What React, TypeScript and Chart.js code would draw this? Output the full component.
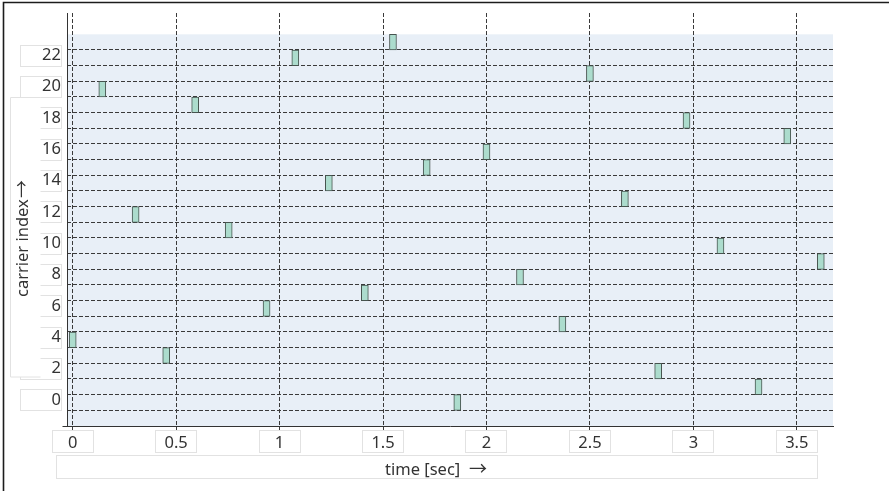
import React, { useEffect, useRef } from "react";
import { Chart, registerables } from "chart.js";

Chart.register(...registerables);

// Frequency-hopping schedule: hop start time (s) and the carrier it lands on.
const HOP_TIMES = [
  0, 0.143, 0.304, 0.452, 0.592, 0.754, 0.937, 1.076, 1.238, 1.412, 1.548, 1.711,
  1.859, 2.0, 2.162, 2.367, 2.5, 2.669, 2.83, 2.967, 3.131, 3.315, 3.454, 3.616,
];
const HOP_CARRIERS = [
  4, 20, 12, 3, 19, 11, 6, 22, 14, 7, 23, 15, 0, 16, 8, 5, 21, 13, 2, 18, 10, 1, 17, 9,
];

const X_TICKS = [0, 0.5, 1, 1.5, 2, 2.5, 3, 3.5];
const Y_TICKS = [0, 2, 4, 6, 8, 10, 12, 14, 16, 18, 20, 22];
// Boundaries between neighbouring carrier rows.
const ROW_EDGES = [
  -0.5, 0.5, 1.5, 2.5, 3.5, 4.5, 5.5, 6.5, 7.5, 8.5, 9.5, 10.5, 11.5, 12.5, 13.5, 14.5,
  15.5, 16.5, 17.5, 18.5, 19.5, 20.5, 21.5, 22.5,
];

const X_TITLE = "time [sec]";
const Y_TITLE = "carrier index";
const ARROW = "\u2192";

const X_MIN = -0.0276;
const X_MAX = 3.675;
const Y_MIN = -1.5;
const Y_MAX = 24.86;
const BAND_TOP = 23.5;
const CELL_HALF = 0.5;

const FONT_FAMILY = "'Noto Sans', 'Open Sans', sans-serif";
const ARROW_FONT = "18px 'Noto Sans CJK SC', 'DejaVu Sans', sans-serif";
const TEXT_COLOR = "#333333";
const GRID_COLOR = "#3a3a3a";
const BOX_COLOR = "#e2e2e2";
const BAND_COLOR = "#e8eff7";

function box(ctx: CanvasRenderingContext2D, x1: number, y1: number, x2: number, y2: number) {
  ctx.fillStyle = "#ffffff";
  ctx.fillRect(x1, y1, x2 - x1, y2 - y1);
  ctx.strokeStyle = BOX_COLOR;
  ctx.lineWidth = 1;
  ctx.strokeRect(x1, y1, x2 - x1, y2 - y1);
}

const decorations = {
  id: "decorations",
  beforeDraw(chart: any) {
    const { ctx, chartArea, scales } = chart;
    const xs = scales.x;
    const ys = scales.y;
    ctx.save();

    // shaded band behind the hop grid
    const bTop = ys.getPixelForValue(BAND_TOP);
    const bBottom = ys.getPixelForValue(Y_MIN);
    ctx.fillStyle = BAND_COLOR;
    ctx.fillRect(chartArea.left, bTop, chartArea.right - chartArea.left, bBottom - bTop);

    // label frames
    for (const v of Y_TICKS) {
      const cy = Math.round(ys.getPixelForValue(v) - 2);
      box(ctx, 20.5, cy - 10.5, 61.5, cy + 10.5);
    }
    ctx.fillStyle = "#ffffff";
    ctx.fillRect(10.5, 97.5, 30, 279.5);
    ctx.strokeStyle = BOX_COLOR;
    ctx.lineWidth = 1;
    ctx.beginPath();
    ctx.moveTo(40.5, 97.5);
    ctx.lineTo(10.5, 97.5);
    ctx.lineTo(10.5, 377);
    ctx.lineTo(40.5, 377);
    ctx.stroke();

    for (const v of X_TICKS) {
      const cx = Math.round(xs.getPixelForValue(v));
      box(ctx, cx - 20.5, 430.5, cx + 20.5, 452.5);
    }
    box(ctx, 56.5, 455.5, 817.5, 478.5);

    // axis titles
    ctx.fillStyle = TEXT_COLOR;
    ctx.textAlign = "left";
    ctx.textBaseline = "alphabetic";
    ctx.font = `16.5px ${FONT_FAMILY}`;
    ctx.fillText(X_TITLE, 385, 475);
    ctx.font = ARROW_FONT;
    ctx.fillText(ARROW, 469, 475);

    ctx.save();
    ctx.translate(28.3, 297);
    ctx.rotate(-Math.PI / 2);
    ctx.font = `16.5px ${FONT_FAMILY}`;
    ctx.fillText(Y_TITLE, 0, 0);
    ctx.font = ARROW_FONT;
    ctx.fillText(ARROW, 99, 0);
    ctx.restore();

    // outer frame
    ctx.strokeStyle = "#1c1c1c";
    ctx.lineWidth = 1.6;
    ctx.beginPath();
    ctx.moveTo(3.5, 491);
    ctx.lineTo(3.5, 2.5);
    ctx.lineTo(889, 2.5);
    ctx.stroke();

    ctx.restore();
  },
  afterDraw(chart: any) {
    // short extension of the bottom axis line to the left of the vertical axis
    const { ctx, chartArea } = chart;
    ctx.save();
    ctx.strokeStyle = "#333333";
    ctx.lineWidth = 1;
    ctx.beginPath();
    const yb = Math.round(chartArea.bottom) + 0.5;
    ctx.moveTo(chartArea.left - 4.5, yb);
    ctx.lineTo(chartArea.left, yb);
    ctx.stroke();
    ctx.restore();
  },
};

export default function App() {
  const canvasRef = useRef<HTMLCanvasElement | null>(null);

  useEffect(() => {
    const canvas = canvasRef.current;
    if (!canvas) return;
    const tickFont = { family: FONT_FAMILY, size: 16.5 };

    const chart = new Chart(canvas, {
      type: "bar",
      data: {
        datasets: [
          {
            data: HOP_TIMES.map((t, i) => ({
              x: t,
              y: [HOP_CARRIERS[i] - CELL_HALF, HOP_CARRIERS[i] + CELL_HALF],
            })) as any,
            backgroundColor: "#acdccd",
            borderColor: "#46544f",
            borderWidth: 1,
            borderSkipped: false,
            barThickness: 7,
            grouped: false,
          } as any,
        ],
      },
      options: {
        responsive: false,
        maintainAspectRatio: false,
        animation: false,
        events: [],
        layout: { padding: { top: 13, right: 56, left: 0, bottom: 0 } },
        plugins: {
          legend: { display: false },
          tooltip: { enabled: false },
          title: { display: false },
        },
        scales: {
          x: {
            type: "linear",
            min: X_MIN,
            max: X_MAX,
            offset: false,
            afterBuildTicks: (axis: any) => {
              axis.ticks = X_TICKS.map((value) => ({ value }));
            },
            afterFit: (axis: any) => {
              axis.height = 65;
              axis.paddingLeft = 0;
              axis.paddingRight = 0;
            },
            ticks: {
              autoSkip: false,
              maxRotation: 0,
              padding: 3,
              color: TEXT_COLOR,
              font: tickFont,
              callback: (v: any) => String(v),
            },
            grid: {
              offset: false,
              color: GRID_COLOR,
              lineWidth: 1,
              drawTicks: true,
              tickLength: 4,
              tickColor: GRID_COLOR,
              tickBorderDash: [4, 2],
            },
            border: { display: true, color: "#333333", width: 1, dash: [4, 2] },
          },
          y: {
            type: "linear",
            position: "left",
            min: Y_MIN,
            max: Y_MAX,
            afterBuildTicks: (axis: any) => {
              axis.ticks = Y_TICKS.map((value) => ({ value }));
            },
            afterFit: (axis: any) => {
              axis.width = 67;
              axis.paddingTop = 0;
              axis.paddingBottom = 0;
            },
            ticks: {
              padding: 6,
              labelOffset: -2.5,
              color: TEXT_COLOR,
              font: tickFont,
              callback: (v: any) => String(v),
            },
            grid: { display: false, drawTicks: false },
            border: { display: true, color: "#333333", width: 1 },
          },
          rows: {
            type: "linear",
            position: "right",
            min: Y_MIN,
            max: Y_MAX,
            afterBuildTicks: (axis: any) => {
              axis.ticks = ROW_EDGES.map((value) => ({ value }));
            },
            afterFit: (axis: any) => {
              axis.width = 0;
              axis.paddingTop = 0;
              axis.paddingBottom = 0;
            },
            ticks: { display: false },
            grid: { color: GRID_COLOR, lineWidth: 1, drawTicks: false },
            border: { display: false, dash: [4, 2] },
          },
        },
      } as any,
      plugins: [decorations],
    });

    return () => chart.destroy();
  }, []);

  return (
    <div
      style={{
        position: "fixed",
        left: 0,
        top: 0,
        width: 889,
        height: 491,
        background: "#ffffff",
        overflow: "hidden",
      }}
    >
      <canvas ref={canvasRef} width={889} height={491} style={{ display: "block" }} />
    </div>
  );
}
